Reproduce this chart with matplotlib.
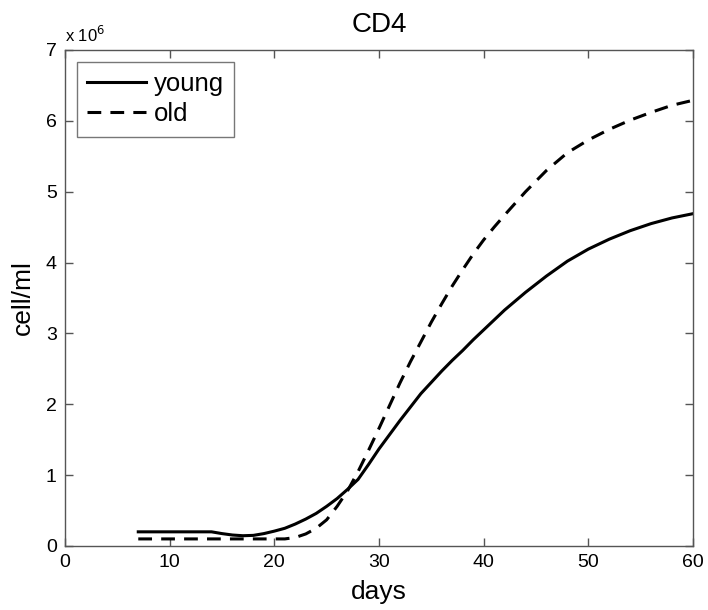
import matplotlib
matplotlib.use('Agg')
import matplotlib.pyplot as plt

# values, cells/ml in units of 1e6
days_young = [7, 10, 14, 15, 16, 17, 18, 19, 20, 21, 22, 23, 24, 25, 26, 27, 28, 29, 30,
              31, 32, 33, 34, 35, 36, 37, 38, 39, 40, 42, 44, 46, 48, 50, 52, 54, 56, 58, 60]
young = [0.2, 0.2, 0.2, 0.175, 0.155, 0.145, 0.15, 0.175, 0.21, 0.25, 0.31, 0.38, 0.46,
         0.56, 0.67, 0.8, 0.94, 1.15, 1.37, 1.57, 1.77, 1.96, 2.15, 2.31, 2.47, 2.62, 2.76,
         2.91, 3.05, 3.33, 3.58, 3.81, 4.02, 4.19, 4.33, 4.45, 4.55, 4.63, 4.69]

days_old = [7, 10, 14, 18, 21, 22, 23, 24, 25, 26, 27, 28, 29, 30, 31, 32, 33, 34, 35, 36,
            37, 38, 39, 40, 41, 42, 44, 46, 48, 50, 52, 54, 56, 58, 60]
old = [0.1, 0.1, 0.1, 0.1, 0.1, 0.12, 0.17, 0.25, 0.37, 0.56, 0.78, 1.05, 1.35, 1.66, 1.98,
       2.3, 2.6, 2.88, 3.16, 3.42, 3.67, 3.9, 4.12, 4.32, 4.5, 4.67, 5.0, 5.3, 5.55, 5.73,
       5.88, 6.01, 6.12, 6.22, 6.29]

x_ticks = [0, 10, 20, 30, 40, 50, 60]
y_ticks = [0, 1, 2, 3, 4, 5, 6, 7]

plt.rcParams['font.family'] = ['Liberation Sans', 'DejaVu Sans']

fig = plt.figure(figsize=(7.08, 6.10), dpi=100)
ax = fig.add_axes([65 / 708, 1 - 546 / 610, 628 / 708, 496 / 610])

ax.plot(days_young, young, color='black', linewidth=2.2, label='young')
ax.plot(days_old, old, color='black', linewidth=2.2, dashes=(4.5, 3), label='old')

ax.set_xlim(0, 60)
ax.set_ylim(0, 7)
ax.set_xticks(x_ticks)
ax.set_yticks(y_ticks)
ax.tick_params(direction='in', top=True, right=True, length=6, width=1,
               color='#555555', labelsize=14, pad=6)
for s in ax.spines.values():
    s.set_color('#555555')
    s.set_linewidth(1)

ax.set_title('CD4', fontsize=20, pad=13)
ax.set_xlabel('days', fontsize=19, labelpad=6)
ax.set_ylabel('cell/ml', fontsize=19, labelpad=8)
ax.text(0.0, 1.01, r'x 10$^{6}$', transform=ax.transAxes, fontsize=12,
        ha='left', va='bottom')

leg = ax.legend(loc='upper left', fontsize=18.5, frameon=True, fancybox=False,
                handlelength=2.3, handletextpad=0.3, borderpad=0.4,
                labelspacing=0.25, borderaxespad=0.45)
leg.get_frame().set_edgecolor('#555555')
leg.get_frame().set_linewidth(1)

fig.savefig('out.png', dpi=100)
